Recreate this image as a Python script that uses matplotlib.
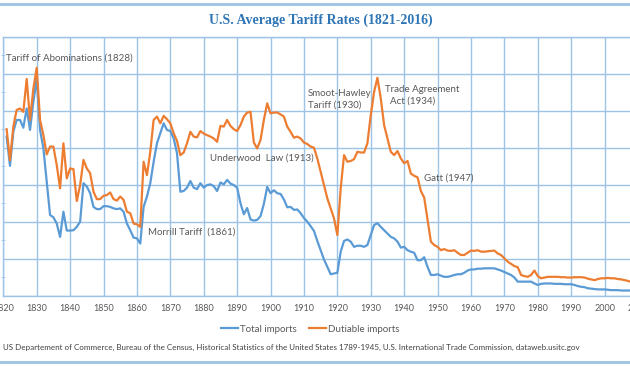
import matplotlib
matplotlib.use('Agg')
import matplotlib.pyplot as plt
from matplotlib.lines import Line2D
import numpy as np

plt.rcParams['font.family'] = ['Lato', 'DejaVu Sans']

# Data, percent
years = list(range(1821, 2009))

dutiable = [
    45.0, 36.6, 45.7, 50.2, 50.6, 49.7, 58.6, 47.5, 56.0, 61.6,   # 1821-1830
    47.5, 43.4, 38.2, 40.3, 40.3, 35.3, 29.0, 41.2, 31.7, 34.4,   # 1831-1840
    34.2, 25.6, 29.9, 36.7, 34.4, 33.1, 28.1, 26.1, 26.1, 27.0,   # 1841-1850
    27.2, 27.9, 26.1, 25.7, 26.8, 25.9, 22.7, 22.3, 19.5, 19.3,   # 1851-1860
    18.6, 36.2, 32.6, 38.9, 47.5, 48.4, 46.6, 48.6, 47.7, 46.6,   # 1861-1870
    43.9, 41.8, 38.0, 38.7, 41.2, 44.3, 43.0, 42.8, 44.5, 43.8,   # 1871-1880
    43.4, 43.0, 42.5, 41.6, 45.9, 45.7, 47.5, 45.9, 45.0, 44.5,   # 1881-1890
    46.1, 48.4, 49.5, 49.7, 41.4, 39.8, 42.1, 47.5, 52.0, 49.3,   # 1891-1900
    49.5, 49.5, 49.0, 48.4, 45.7, 44.3, 42.7, 43.0, 42.5, 41.4,   # 1901-1910
    41.0, 40.3, 40.0, 37.1, 33.5, 29.9, 26.3, 23.6, 20.9, 16.4,   # 1911-1920
    29.0, 38.0, 36.2, 36.4, 36.9, 38.9, 38.7, 38.7, 41.2, 48.8,   # 1921-1930
    55.1, 58.9, 53.3, 46.1, 42.5, 38.9, 38.0, 39.1, 37.1, 35.8,   # 1931-1940
    36.4, 33.0, 32.4, 32.0, 28.3, 26.5, 20.5, 14.6, 13.7, 13.2,   # 1941-1950
    12.3, 12.6, 12.2, 12.1, 12.3, 11.6, 11.0, 11.0, 11.6, 12.2,   # 1951-1960
    12.1, 12.3, 11.9, 11.9, 12.0, 12.1, 12.2, 11.4, 11.0, 10.1,   # 1961-1970
    9.2, 8.6, 8.0, 7.7, 5.6, 5.3, 5.1, 5.6, 6.8, 5.3,             # 1971-1980
    4.7, 4.9, 5.1, 5.1, 5.1, 5.1, 5.0, 5.0, 4.9, 4.9,             # 1981-1990
    5.0, 5.0, 5.0, 4.9, 4.6, 4.4, 4.2, 4.5, 4.7, 4.7,             # 1991-2000
    4.8, 4.7, 4.7, 4.5, 4.4, 4.2, 4.0, 3.7,                       # 2001-2008
]

total = [
    43.0, 35.1, 44.3, 47.5, 47.5, 45.4, 50.6, 44.8, 52.4, 58.7,   # 1821-1830
    44.8, 39.8, 30.8, 21.8, 21.2, 19.5, 15.9, 22.7, 17.6, 17.6,   # 1831-1840
    17.7, 18.6, 20.0, 30.4, 29.5, 27.7, 24.0, 23.4, 23.4, 24.2,   # 1841-1850
    24.2, 24.0, 23.6, 23.4, 23.6, 22.7, 19.5, 17.7, 15.7, 15.5,   # 1851-1860
    14.1, 24.0, 26.8, 30.4, 36.2, 41.2, 43.9, 46.6, 44.8, 44.5,   # 1861-1870
    42.5, 38.5, 28.1, 28.3, 29.2, 31.0, 29.2, 28.8, 30.4, 29.2,   # 1871-1880
    29.9, 30.1, 29.6, 28.3, 30.6, 30.1, 31.3, 30.3, 29.9, 29.2,   # 1881-1890
    25.0, 22.0, 23.7, 20.6, 20.3, 20.5, 21.5, 24.8, 29.4, 27.7,   # 1891-1900
    28.5, 27.7, 27.5, 26.0, 23.9, 24.0, 23.2, 23.3, 22.3, 21.0,   # 1901-1910
    20.0, 18.8, 17.5, 14.8, 12.3, 9.8, 7.8, 5.8, 6.0, 6.2,        # 1911-1920
    11.9, 14.8, 15.2, 14.6, 13.2, 13.5, 13.5, 13.2, 13.7, 16.4,   # 1921-1930
    19.1, 19.6, 18.6, 17.7, 16.8, 15.9, 15.5, 14.6, 13.0, 13.2,   # 1931-1940
    12.3, 11.9, 11.6, 9.6, 9.6, 10.4, 7.8, 5.6, 5.6, 5.8,         # 1941-1950
    5.4, 5.1, 5.1, 5.3, 5.6, 5.8, 5.8, 6.2, 6.8, 7.1,             # 1951-1960
    7.1, 7.3, 7.3, 7.4, 7.4, 7.4, 7.4, 7.1, 6.8, 6.4,             # 1961-1970
    6.0, 5.6, 4.9, 3.8, 3.8, 3.8, 3.8, 3.8, 3.3, 2.9,             # 1971-1980
    3.2, 3.3, 3.3, 3.3, 3.2, 3.2, 3.2, 3.1, 3.1, 3.1,             # 1981-1990
    2.9, 2.6, 2.4, 2.3, 2.0, 1.9, 1.8, 1.7, 1.7, 1.7,             # 1991-2000
    1.6, 1.5, 1.5, 1.5, 1.4, 1.4, 1.4, 1.4,                       # 2001-2008
]

notes = [
    ('Tariff of Abominations (1828)', 1820.8, 64.2),
    ('Morrill Tariff  (1861)', 1863.2, 17.3),
    ('Underwood  Law (1913)', 1881.9, 37.1),
    ('Smoot-Hawley\nTariff (1930)', 1911.1, 53.1),
    ('Trade Agreement\n  Act (1934)', 1934.3, 54.2),
    ('Gatt (1947)', 1945.8, 31.7),
]

grid_c = '#9DC3E6'
text_c = '#595959'

W, H = 630, 366
fig = plt.figure(figsize=(W / 100, H / 100), dpi=100)

# axes: 1820 at x=3.3px, 2010 just past the right edge, 0..70% between y=295.7 and y=36.7
x0, x1 = 3.3, 638.0
y0, y1 = 295.7, 36.7
ax = fig.add_axes([x0 / W, 1 - y0 / H, (x1 - x0) / W, (y0 - y1) / H])

ax.plot(years, total, color='#5B9BD5', lw=1.6, label='Total imports')
ax.plot(years, dutiable, color='#ED7D31', lw=1.6, label='Dutiable imports')

ax.set_xlim(1820, 2010)
ax.set_ylim(0, 70)
ax.set_xticks(np.arange(1820, 2011, 10))
ax.set_yticks(np.arange(0, 71, 10))
ax.set_yticks(np.arange(5, 70, 10), minor=True)
ax.grid(True, color=grid_c, lw=1.0)
ax.set_axisbelow(True)
for s in ax.spines.values():
    s.set_color(grid_c)
    s.set_linewidth(1.0)
ax.tick_params(axis='x', length=0, pad=6, labelsize=6.5, labelcolor=text_c)
ax.tick_params(axis='y', which='both', labelleft=False, length=0)
ax.tick_params(axis='y', which='minor', length=3, direction='inout', color=grid_c)

for txt, xx, yy in notes:
    ax.text(xx, yy, txt, fontsize=7, color=text_c, ha='left', va='center',
            linespacing=1.4)

fig.text(321 / W, 1 - 20 / H, 'U.S. Average Tariff Rates (1821-2016)',
         ha='center', va='center', fontsize=10, fontweight='bold',
         color='#2E75B6', family=['Liberation Serif', 'DejaVu Serif'])

fig.legend(loc='center', bbox_to_anchor=(310 / W, 1 - 329 / H), ncol=2,
           frameon=False, fontsize=7, handlelength=1.8, handletextpad=0.15,
           columnspacing=1.3, labelcolor=text_c)

fig.text(3 / W, 1 - 347.5 / H,
         'US Departement of Commerce, Bureau of the Census, Historical Statistics of the '
         'United States 1789-1945, U.S. International Trade Commission, dataweb.usitc.gov',
         ha='left', va='center', fontsize=5.8, color='#404040')

# light blue frame lines at top and bottom of the image
for yy in (3.5, 362):
    fig.add_artist(Line2D([0, 1], [1 - yy / H] * 2, color=grid_c, lw=2.0))

fig.savefig('out.png', dpi=100)
